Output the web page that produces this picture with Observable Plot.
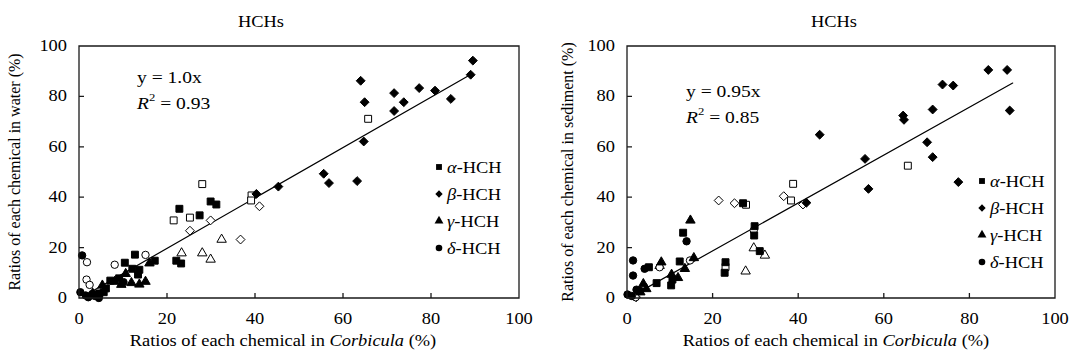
<!DOCTYPE html>
<html><head><meta charset="utf-8">
<script src="https://cdn.jsdelivr.net/npm/d3@7"></script>
<script src="https://cdn.jsdelivr.net/npm/@observablehq/plot@0.6"></script>
<style>
body{margin:0;background:#fff}
#c{display:flex;width:1070px;height:358px;background:#fff}
</style>
</head><body><div id="c"></div>
<script>
const xTicks = [0, 20, 40, 60, 80, 100];
const yTicks = [0, 20, 40, 60, 80, 100];
const seriesNames = ["α", "β", "γ", "δ"];

// ---- Water panel (left) ----
const waterAlphaFilled = [[22.7,35.6],[27.3,33],[29.8,38.5],[31.1,37.3],[12.6,17.4],[10.3,14.2],[17.1,15],[22,15],[23.1,13.9],[12,11.8],[13.6,11.4],[13.3,9.5],[7,7.1],[5.5,2.5],[9,8],[3.5,1.5],[4.5,2],[6,4]];
const waterAlphaOpen = [[27.9,45.4],[21.4,31],[25.1,32.1],[39.1,40.9],[39,38.9],[65.6,71.3]];
const waterBetaFilled = [[40.2,41.5],[45.2,44.4],[55.5,49.5],[56.7,45.8],[63.1,46.6],[64.6,62.3],[63.9,86.4],[64.8,77.9],[71.5,81.5],[71.5,74.4],[73.7,77.9],[77.2,83.5],[80.8,82.5],[84.4,79.2],[88.9,88.8],[89.4,94.4]];
const waterBetaOpen = [[25.1,26.9],[29.8,31],[36.6,23.4],[40.9,36.6]];
const waterGammaFilled = [[15.9,14],[15,6.7],[13.6,5.6],[11.8,6.2],[10.5,9.8],[5.2,5.2],[8,6.7],[9.5,5.5],[3,2]];
const waterGammaOpen = [[23.2,18],[27.9,18],[29.8,15.5],[32.3,23.4]];
const waterDeltaFilled = [[0.6,17.1],[0.2,2.5],[1.4,1.2],[2.9,1.8],[4.4,0.2],[10,6.5],[2,0.5],[3.5,1]];
const waterDeltaOpen = [[1.7,14.4],[1.6,7.5],[2.3,5.4],[8,13.4],[15,17.3]];
const waterFit = [[1,1],[89.4,89.4]];

// ---- Sediment panel (right) ----
const sedAlphaFilled = [[27,37.8],[29.7,28.7],[29.6,25],[30.9,18.8],[22.9,14.4],[22.7,10.2],[13,26.1],[12.2,14.7],[10.2,5.2],[6.8,6.1],[5,12.4],[10.5,7.5]];
const sedAlphaOpen = [[27.7,37.2],[38.7,45.5],[38.2,38.9],[65.5,52.7],[22.9,12.5]];
const sedBetaFilled = [[41.8,38],[44.9,65],[55.5,55.4],[56.3,43.5],[64.4,72.6],[64.6,70.9],[70,62],[71.3,56.1],[71.3,75],[73.6,84.9],[76.1,84.5],[77.3,46.2],[84.3,90.7],[88.7,90.7],[89.3,74.6]];
const sedBetaOpen = [[21.3,38.9],[25,37.8],[36.5,40.6],[41,37.3],[2,0.5]];
const sedGammaFilled = [[14.7,31],[7.9,14.4],[15.5,16.1],[13.4,11.8],[10.3,9.5],[11.8,8.2],[3.7,5.8],[4.4,3.8],[3,2.5]];
const sedGammaOpen = [[29.5,20],[32.1,17.1],[27.6,10.8],[7.5,13]];
const sedDeltaFilled = [[1.3,15.1],[1.3,9.1],[13.8,22.7],[4,11.8],[0,1.6],[2.1,3.5],[3,3],[1,1]];
const sedDeltaOpen = [[7.5,12.4],[14.6,15.1],[1.9,0.5],[29.5,27]];
const sedFit = [[1,0.95],[90,85.5]];

const FONT = "'Liberation Serif','Times New Roman',serif";
const SX = 1.15; // horizontal stretch of the reference's lettering
const shapes = {α:"square", β:"diamond2", γ:"triangle", δ:"circle"};
const radii = {α:3.9, β:4.0, γ:3.5, δ:3.7};

function panel(cfg) {
  const groups = [
    ["α", cfg.alphaOpen, false], ["β", cfg.betaOpen, false], ["γ", cfg.gammaOpen, false], ["δ", cfg.deltaOpen, false],
    ["α", cfg.alphaFilled, true], ["β", cfg.betaFilled, true], ["γ", cfg.gammaFilled, true], ["δ", cfg.deltaFilled, true]
  ];
  const dots = groups.map(([k, arr, filled]) => Plot.dot(arr, {
    x: d => d[0], y: d => d[1], symbol: shapes[k], r: radii[k],
    fill: filled ? "#000" : "#fff", stroke: "#000", strokeWidth: 1
  }));
  const svg = Plot.plot({
    width: 535, height: 358,
    marginLeft: cfg.ml, marginRight: cfg.mr, marginTop: 46, marginBottom: 60,
    style: {fontFamily: FONT, fontSize: "16px", color: "#000", background: "#fff"},
    x: {domain: [xTicks[0], xTicks[xTicks.length - 1]], axis: null},
    y: {domain: [yTicks[0], yTicks[yTicks.length - 1]], axis: null},
    marks: [
      Plot.line(cfg.fit, {x: d => d[0], y: d => d[1], stroke: "#000", strokeWidth: 1.2}),
      ...dots
    ]
  });
  const s = d3.select(svg);
  const xs = svg.scale("x"), ys = svg.scale("y");
  const X = v => xs.apply(v), Y = v => ys.apply(v);
  const xa = xTicks[0], xb = xTicks[xTicks.length - 1], ya = yTicks[0], yb = yTicks[yTicks.length - 1];
  // frame and inward ticks, one path each, placed through the plot's scales and drawn on top
  const p = d3.path();
  p.moveTo(X(xa), Y(ya)); p.lineTo(X(xb), Y(ya)); p.lineTo(X(xb), Y(yb)); p.lineTo(X(xa), Y(yb)); p.closePath();
  xTicks.slice(1, -1).forEach(v => { p.moveTo(X(v), Y(ya)); p.lineTo(X(v), Y(ya) - 5); });
  yTicks.slice(1, -1).forEach(v => { p.moveTo(X(xa), Y(v)); p.lineTo(X(xa) + 5, Y(v)); });
  s.append("path").attr("d", p.toString()).attr("fill", "none").attr("stroke", "#1a1a1a").attr("stroke-width", 1.3);

  const t = (x, y, anchor, size) => s.append("text").attr("transform", `translate(${x},${y}) scale(${SX},1)`)
    .attr("text-anchor", anchor).attr("font-family", FONT).attr("font-size", size).attr("fill", "#000");
  // tick labels
  xTicks.forEach(v => t(X(v), Y(ya) + 26, "middle", 16).text(v));
  yTicks.forEach(v => t(X(xa) - 12, Y(v) + 5, "end", 16).text(v));
  // title
  t(cfg.titleX, 27, "middle", 16).text("HCHs");
  // x label
  const xl = t(cfg.xLabelX, 346, "middle", 16);
  xl.append("tspan").text("Ratios of each chemical in ");
  xl.append("tspan").attr("font-style", "italic").text("Corbicula");
  xl.append("tspan").text(" (%)");
  // y label
  s.append("text").attr("transform", `translate(${cfg.yLabelX},172) rotate(-90)`)
    .attr("text-anchor", "middle").attr("font-family", FONT).attr("font-size", 16).attr("fill", "#000")
    .text(cfg.yLabel);
  // equation
  const eq = cfg.eq;
  t(eq.x, eq.y, "start", 17).text(eq.line1);
  const r2 = t(eq.x, eq.y + 26, "start", 17);
  r2.append("tspan").attr("font-style", "italic").text("R");
  r2.append("tspan").attr("font-size", 11).attr("dy", -8).text("2");
  r2.append("tspan").attr("dy", 8).text(" = " + eq.r2);
  // legend
  seriesNames.forEach((k, i) => {
    const y = cfg.legY + i * 27;
    const sym = {α: d3.symbolSquare, β: d3.symbolDiamond2, γ: d3.symbolTriangle, δ: d3.symbolCircle}[k];
    s.append("path").attr("d", d3.symbol(sym, Math.PI * 3.3 * 3.3)())
      .attr("transform", `translate(${cfg.legX},${y})`).attr("fill", "#000");
    const tx = t(cfg.legX + 8, y + 6, "start", 16);
    tx.append("tspan").attr("font-style", "italic").text(k);
    tx.append("tspan").text("-HCH");
  });
  return svg;
}

const c = document.getElementById("c");
c.append(panel({
  ml: 79, mr: 16, titleX: 261, xLabelX: 283, yLabelX: 20,
  yLabel: "Ratios of each chemical in water (%)",
  alphaFilled: waterAlphaFilled, alphaOpen: waterAlphaOpen, betaFilled: waterBetaFilled, betaOpen: waterBetaOpen,
  gammaFilled: waterGammaFilled, gammaOpen: waterGammaOpen, deltaFilled: waterDeltaFilled, deltaOpen: waterDeltaOpen,
  fit: waterFit, eq: {x: 137, y: 83, line1: "y = 1.0x", r2: "0.93"}, legX: 439, legY: 167
}));
c.append(panel({
  ml: 92, mr: 15, titleX: 299, xLabelX: 301, yLabelX: 38,
  yLabel: "Ratios of each chemical in sediment (%)",
  alphaFilled: sedAlphaFilled, alphaOpen: sedAlphaOpen, betaFilled: sedBetaFilled, betaOpen: sedBetaOpen,
  gammaFilled: sedGammaFilled, gammaOpen: sedGammaOpen, deltaFilled: sedDeltaFilled, deltaOpen: sedDeltaOpen,
  fit: sedFit, eq: {x: 151, y: 97, line1: "y = 0.95x", r2: "0.85"}, legX: 447, legY: 181
}));
</script></body></html>
